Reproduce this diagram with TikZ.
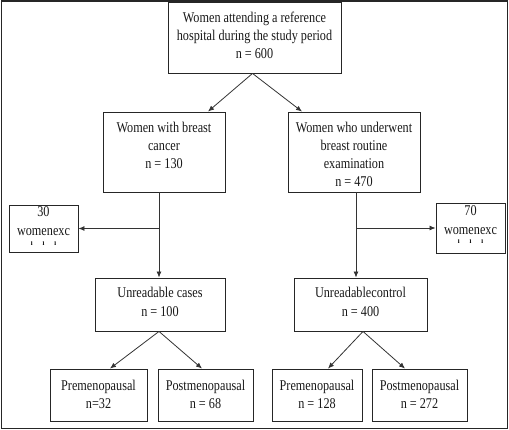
\documentclass[tikz,border=0pt]{standalone}
\usepackage{fontspec}
\setmainfont{Liberation Serif}[FakeStretch=0.82]
\usetikzlibrary{arrows.meta}
\newcommand{\lbfont}{\fontsize{14.9}{18}\selectfont}
\tikzset{
  box/.style={draw=black!85, line width=0.9pt, inner sep=0pt, fill=white},
  lbl/.style={anchor=north, align=center, inner sep=0pt, font=\lbfont, text=black!90},
  ticks/.style={inner sep=0pt, font=\fontsize{8}{8}\selectfont\bfseries, text=black},
  conn/.style={draw=black!80, line width=0.8pt},
  arr/.style={conn, -{Latex[length=6pt,width=5pt]}}
}
\begin{document}
\begin{tikzpicture}[x=1pt,y=-1pt]
\useasboundingbox (0,0) rectangle (509,430);
\draw[draw=black!85, line width=1.3pt] (1.5,1) rectangle (507.5,428.5);

% boxes
\node[box, minimum width=173pt, minimum height=71pt] (top) at (254.5,37.5) {};
\node[box, minimum width=122pt, minimum height=80pt] (breast) at (164,152) {};
\node[box, minimum width=132pt, minimum height=80pt] (routine) at (354,152) {};
\node[box, minimum width=69pt, minimum height=47pt] (exclL) at (43.5,228.5) {};
\node[box, minimum width=69pt, minimum height=50pt] (exclR) at (470.5,228) {};
\node[box, minimum width=130pt, minimum height=53pt] (cases) at (160,304.5) {};
\node[box, minimum width=133pt, minimum height=53pt] (control) at (360.5,304.5) {};
\node[box, minimum width=97pt, minimum height=52pt] (pre1) at (98.5,395) {};
\node[box, minimum width=95pt, minimum height=52pt] (post1) at (205.5,395) {};
\node[box, minimum width=90pt, minimum height=52pt] (pre2) at (317,395) {};
\node[box, minimum width=95pt, minimum height=52pt] (post2) at (419.5,395) {};

% labels
\node[lbl] (ttop) at ([yshift=-10pt]top.north) {Women attending a reference\\hospital during the study period\\n = 600};
\node[lbl] (tbreast) at ([yshift=-10pt]breast.north) {Women with breast\\cancer\\n = 130};
\node[lbl] (troutine) at ([yshift=-10pt]routine.north) {Women who underwent\\breast routine\\examination\\n = 470};
\node[lbl, font=\fontsize{14.9}{19}\selectfont] (texclL) at ([yshift=-2pt]exclL.north) {30\\womenexc};
\node[ticks] (tkL) at ([yshift=-15.5pt]exclL.center) {ı\hspace{10pt}ı\hspace{10pt}ı};
\node[lbl, font=\fontsize{14.9}{19}\selectfont] (texclR) at ([yshift=-3pt]exclR.north) {70\\womenexc};
\node[ticks] (tkR) at ([yshift=-14pt]exclR.center) {ı\hspace{10pt}ı\hspace{10pt}ı};
\node[lbl, font=\fontsize{14.9}{19}\selectfont] (tcases) at ([yshift=-9pt]cases.north) {Unreadable cases\\n = 100};
\node[lbl, font=\fontsize{14.9}{19}\selectfont] (tcontrol) at ([yshift=-9pt]control.north) {Unreadablecontrol\\n = 400};
\node[lbl] (tpre1) at ([yshift=-11pt]pre1.north) {Premenopausal\\n=32};
\node[lbl] (tpost1) at ([yshift=-11pt]post1.north) {Postmenopausal\\n = 68};
\node[lbl] (tpre2) at ([yshift=-11pt]pre2.north) {Premenopausal\\n = 128};
\node[lbl] (tpost2) at ([yshift=-11pt]post2.north) {Postmenopausal\\n = 272};

% connectors
\draw[arr] ([xshift=-2pt]top.south) -- ([xshift=44pt]breast.north);
\draw[arr] ([xshift=-2pt]top.south) -- ([xshift=-52pt]routine.north);

\coordinate (bs) at ([xshift=-5pt]breast.south);
\draw[arr] (bs) -- (bs |- cases.north);
\draw[arr] (bs |- exclL.east) -- (exclL.east);

\coordinate (rs) at ([xshift=2pt]routine.south);
\draw[arr] (rs) -- (rs |- control.north);
\draw[arr] (rs |- exclR.west) -- (exclR.west);

\draw[arr] ([xshift=-1pt]cases.south) -- ([xshift=11.5pt]pre1.north);
\draw[arr] ([xshift=-1pt]cases.south) -- ([xshift=-3.5pt]post1.north);
\draw[arr] ([xshift=2.5pt]control.south) -- ([xshift=11pt]pre2.north);
\draw[arr] ([xshift=2.5pt]control.south) -- ([xshift=-14.5pt]post2.north);
\end{tikzpicture}
\end{document}
